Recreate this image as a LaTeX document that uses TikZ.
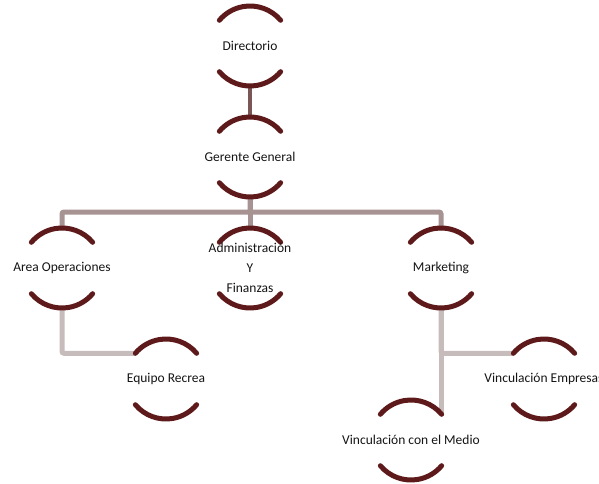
\documentclass[tikz,border=0pt]{standalone}
\usepackage{fontspec}
\setmainfont{Carlito}
\definecolor{arccol}{HTML}{5E1A1A}
\definecolor{conA}{HTML}{7B5656}
\definecolor{conB}{HTML}{A89393}
\definecolor{conC}{HTML}{C7BCBC}
\tikzset{
  unit/.style={inner sep=0pt, align=center, font=\fontsize{13.5}{20}\selectfont, text=black!92},
  arcline/.style={draw=arccol, line width=5pt, line cap=round},
  linkA/.style={draw=conA, line width=4.5pt},
  linkB/.style={draw=conB, line width=5pt, rounded corners=2pt},
  linkC/.style={draw=conC, line width=5pt, rounded corners=2pt}
}
\begin{document}
\begin{tikzpicture}[x=1pt,y=1pt]
\useasboundingbox (0,0) rectangle (599,483);
% centres of the units
\coordinate (pdir) at (250,437);
\coordinate (pger) at (250,326);
\coordinate (pope) at (62,215);
\coordinate (padm) at (250,215);
\coordinate (pmkt) at (441,215);
\coordinate (pequ) at (166,104);
\coordinate (pemp) at (544,104);
\coordinate (pmed) at (411,43);
\coordinate (medtr) at ([shift={(40:40)}]pmed);

% connectors first (behind arcs)
\draw[linkA] ([yshift=-38pt]pdir) -- ([yshift=38pt]pger);
\draw[linkB] ([yshift=-38pt]pger) -- ([yshift=-55pt]pger) -| ([yshift=38pt]pope);
\draw[linkB] ([yshift=-55pt]pger) -| ([yshift=38pt]pmkt);
\draw[linkB] ([yshift=-38pt]pger) -- ([yshift=38pt]padm);
\draw[linkC] ([yshift=-38pt]pope) |- ([shift={(140:40)}]pequ);
\draw[linkC] ([yshift=-38pt]pmkt) |- ([shift={(140:40)}]pemp);
\draw[linkC] ([yshift=-38pt]pmkt) -- (pmkt |- medtr);

% arcs
\foreach \p in {pdir,pger,pope,padm,pmkt,pequ,pemp,pmed} {
  \draw[arcline] ([shift={(40:40)}]\p) arc[start angle=40, end angle=140, radius=40pt];
  \draw[arcline] ([shift={(220:40)}]\p) arc[start angle=220, end angle=320, radius=40pt];
}

% texts
\node[unit] (dir) at (pdir) {Directorio};
\node[unit] (ger) at (pger) {Gerente General};
\node[unit] (ope) at (pope) {Area Operaciones};
\node[unit] (adm) at (padm) {Administración\\Y\\Finanzas};
\node[unit] (mkt) at (pmkt) {Marketing};
\node[unit] (equ) at (pequ) {Equipo Recrea};
\node[unit] (emp) at (pemp) {Vinculación Empresas};
\node[unit] (med) at (pmed) {Vinculación con el Medio};
\end{tikzpicture}
\end{document}
